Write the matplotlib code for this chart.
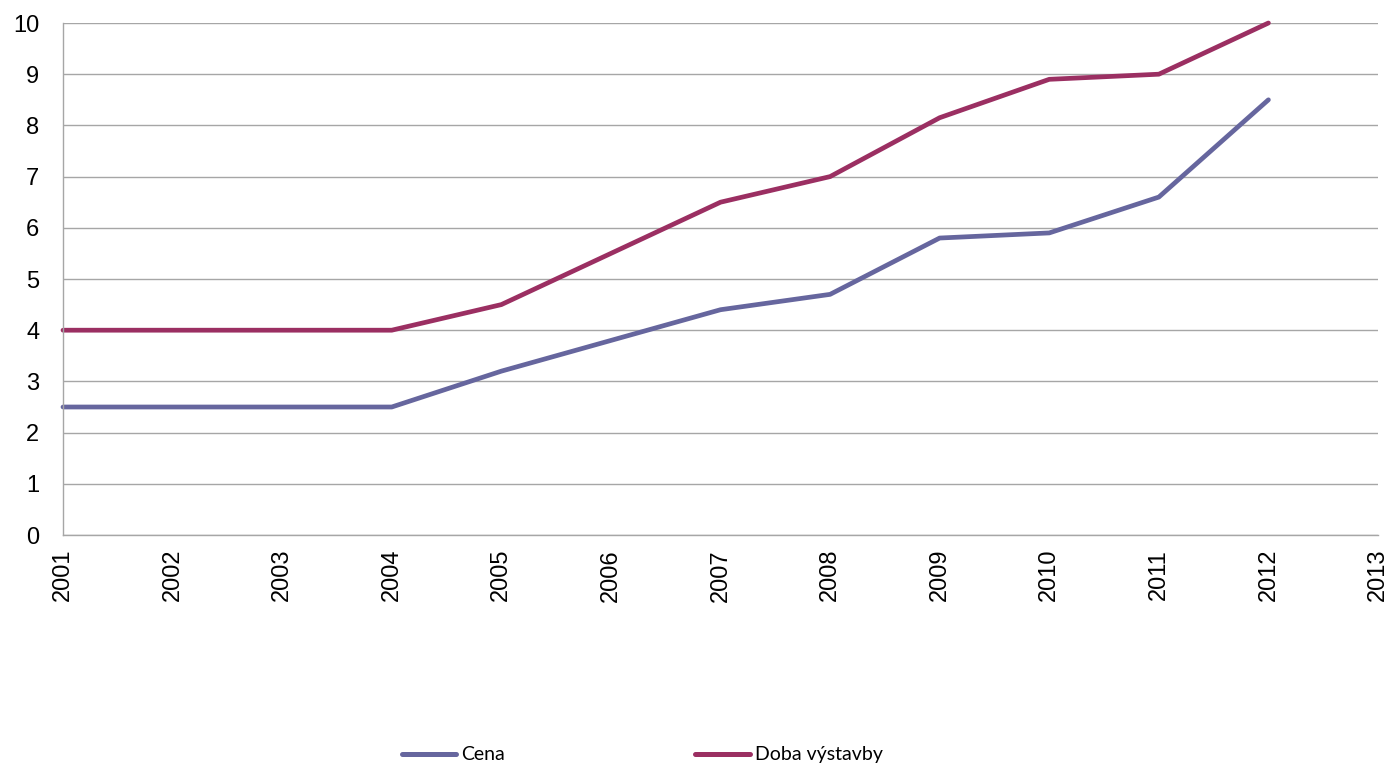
import matplotlib
matplotlib.use("Agg")
import matplotlib.pyplot as plt
from matplotlib.lines import Line2D

years = [2001, 2002, 2003, 2004, 2005, 2006, 2007, 2008, 2009, 2010, 2011, 2012]
cena = [2.5, 2.5, 2.5, 2.5, 3.2, 3.8, 4.4, 4.7, 5.8, 5.9, 6.6, 8.5]
doba = [4, 4, 4, 4, 4.5, 5.5, 6.5, 7, 8.15, 8.9, 9, 10]
xticks = list(range(2001, 2014))

c_cena = "#66669E"
c_doba = "#9B2F62"

fig = plt.figure(figsize=(13.93, 7.68), dpi=100)
ax = fig.add_axes([63 / 1393, (768 - 535) / 768, (1378 - 63) / 1393, 512 / 768])

ax.plot(years, cena, color=c_cena, lw=3.4, solid_capstyle="round", solid_joinstyle="round", clip_on=False)
ax.plot(years, doba, color=c_doba, lw=3.4, solid_capstyle="round", solid_joinstyle="round", clip_on=False)

ax.set_xlim(2001, 2013)
ax.set_ylim(0, 10)
ax.set_yticks(range(0, 11))
ax.set_xticks(xticks)
ax.set_xticklabels([str(y) for y in xticks], rotation=90, fontsize=17,
                   fontfamily="Liberation Sans")
for lbl in ax.get_yticklabels():
    lbl.set_fontsize(17)
    lbl.set_fontfamily("Liberation Sans")
ax.tick_params(axis="y", length=0, pad=17)
ax.tick_params(axis="x", length=0, pad=10)
ax.grid(axis="y", color="#A6A6A6", lw=1)
ax.set_axisbelow(True)
for s in ["top", "right"]:
    ax.spines[s].set_visible(False)
for s in ["left", "bottom"]:
    ax.spines[s].set_color("#A6A6A6")
    ax.spines[s].set_linewidth(1)

handles = [Line2D([], [], color=c_cena, lw=3.6, solid_capstyle="round"),
           Line2D([], [], color=c_doba, lw=3.6, solid_capstyle="round")]
fig.legend(handles, ["Cena", "Doba výstavby"], loc="center", bbox_to_anchor=(0.461, 0.017),
           ncol=2, frameon=False, prop={"family": "Lato", "size": 14},
           handlelength=2.8, handletextpad=0.25, columnspacing=9.8)

fig.savefig("out.png", dpi=100)
